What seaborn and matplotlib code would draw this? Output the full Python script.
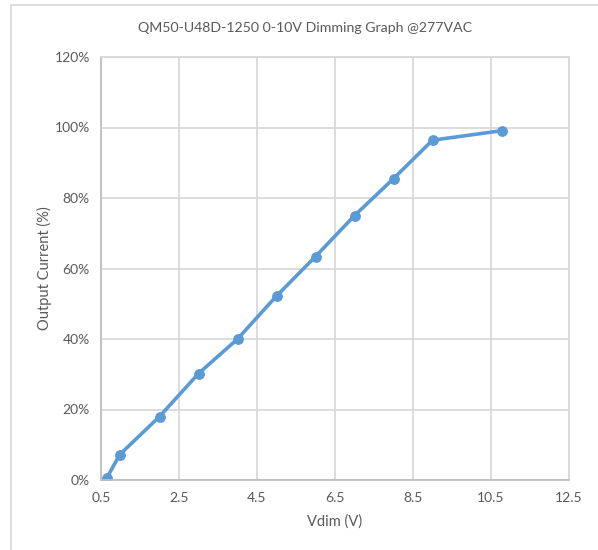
import matplotlib
matplotlib.use("Agg")
import matplotlib.pyplot as plt
from matplotlib.lines import Line2D
from matplotlib.ticker import FuncFormatter, MultipleLocator
import seaborn as sns
import pandas as pd

vdim = [0.65, 0.98, 2.0, 3.0, 4.0, 5.0, 6.0, 7.0, 8.0, 9.0, 10.78]
current = [0.6, 7.2, 18.0, 30.2, 40.0, 52.2, 63.4, 75.0, 85.5, 96.4, 99.1]
title = "QM50-U48D-1250 0-10V Dimming Graph @277VAC"
xlabel = "Vdim (V)"
ylabel = "Output Current (%)"

sns.set_style("white")
plt.rcParams["font.family"] = ["Lato", "DejaVu Sans"]

W, H = 598, 550
fig = plt.figure(figsize=(W / 100, H / 100), dpi=100)
ax = fig.add_axes([101 / W, 1 - 480 / H, (569 - 101) / W, (480 - 57) / H])

df = pd.DataFrame({"x": vdim, "y": current})
line_color = "#5B9BD5"
sns.lineplot(data=df, x="x", y="y", ax=ax, color=line_color, linewidth=2.6,
             marker="o", markersize=7, markeredgecolor=line_color, sort=False)

ax.set_xlim(0.5, 12.5)
ax.set_ylim(0, 120)
ax.set_xticks([0.5, 2.5, 4.5, 6.5, 8.5, 10.5, 12.5])
ax.yaxis.set_major_locator(MultipleLocator(20))
ax.yaxis.set_major_formatter(FuncFormatter(lambda v, p: f"{int(round(v))}%"))
ax.grid(True, color="#D9D9D9", linewidth=1.3)
ax.set_axisbelow(True)
for s in ["top", "right"]:
    ax.spines[s].set_color("#D9D9D9")
    ax.spines[s].set_linewidth(1.3)
for s in ["left", "bottom"]:
    ax.spines[s].set_color("#BFBFBF")
    ax.spines[s].set_linewidth(1.3)
ax.tick_params(axis="both", length=0, labelsize=10, colors="#595959")
ax.tick_params(axis="x", pad=9)
ax.tick_params(axis="y", pad=8)
ax.set_xlabel(xlabel, fontsize=10.5, color="#595959", labelpad=7)
ax.set_ylabel(ylabel, fontsize=10.5, color="#595959", labelpad=2)
fig.text(305 / W, 1 - 28 / H, title, ha="center", va="center",
         fontsize=10.2, color="#595959")

fig.add_artist(Line2D([11 / W, 11 / W], [0, 1 - 5 / H], transform=fig.transFigure,
                      color="#D9D9D9", linewidth=1.2))
fig.add_artist(Line2D([11 / W, 1], [1 - 5 / H, 1 - 5 / H], transform=fig.transFigure,
                      color="#D9D9D9", linewidth=1.2))

fig.savefig("out.png", dpi=100)
